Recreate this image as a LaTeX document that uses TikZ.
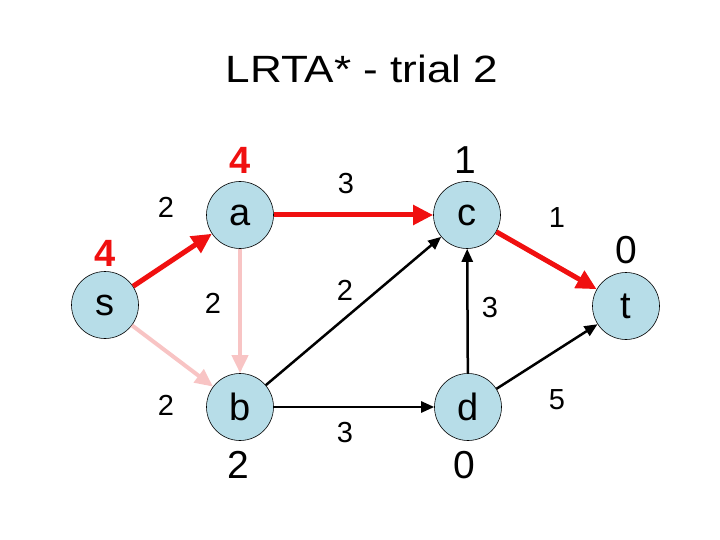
\documentclass[tikz,border=0pt]{standalone}
\usepackage{fontspec}
\setmainfont{Liberation Sans}
\usetikzlibrary{arrows.meta}
\definecolor{nodefill}{HTML}{B7DDE8}
\definecolor{redline}{HTML}{F01010}
\definecolor{pinkline}{HTML}{F8C4C4}
\tikzset{
  vert/.style={circle, draw=black, line width=0.6pt, fill=nodefill, minimum size=67pt, inner sep=0pt, font=\fontsize{38}{42}\selectfont},
  hval/.style={font=\fontsize{39}{43}\selectfont, inner sep=0pt},
  hred/.style={font=\fontsize{38}{42}\selectfont\bfseries, text=redline, inner sep=0pt},
  elab/.style={font=\fontsize{29}{33}\selectfont, inner sep=0pt},
  redarr/.style={draw=redline, line width=5pt, -{Triangle[length=20pt, width=19pt]}},
  pinkarr/.style={draw=pinkline, line width=4pt, -{Triangle[length=18pt, width=16pt]}},
  blackarr/.style={draw=black, line width=2.5pt, -{Triangle[length=13pt, width=11pt]}},
}
\begin{document}
\begin{tikzpicture}[x=1pt, y=-1pt]
\useasboundingbox (0,0) rectangle (720,540);
\node[font=\fontsize{38}{42}\selectfont, inner sep=0pt] (title) at (362,69) {\scalebox{1.16}[1]{LRTA* - trial 2}};

\node[vert] (s) at (105,305) {s};
\node[vert] (a) at (240,215) {a};
\node[vert] (c) at (467,215) {c};
\node[vert] (t) at (626,306) {t};
\node[vert] (b) at (240,407) {b};
\node[vert] (d) at (468,407) {d};

\draw[pinkarr] (a) -- (b);
\draw[pinkarr] (s) -- (b);
\draw[redarr] (s) -- (a);
\draw[redarr] (a) -- (c);
\draw[redarr] (c) -- (t);
\draw[blackarr] (b) -- (c);
\draw[blackarr] (b) -- (d);
\draw[blackarr] (d) -- (c);
\draw[blackarr] (d) -- (t);

\node[hred] (ha) at (240,160) {4};
\node[hred] (hs) at (105,253) {4};
\node[hval] (hc) at (465,160) {1};
\node[hval] (ht) at (626,250) {0};
\node[hval] (hb) at (238,465) {2};
\node[hval] (hd) at (464,465) {0};

\node[elab] (lsa) at (166,207) {2};
\node[elab] (lab) at (213,303) {2};
\node[elab] (lsb) at (166,405) {2};
\node[elab] (lac) at (346,184) {3};
\node[elab] (lct) at (557,218) {1};
\node[elab] (lbc) at (345,290) {2};
\node[elab] (ldc) at (490,308) {3};
\node[elab] (lbd) at (345,433) {3};
\node[elab] (ldt) at (557,400) {5};
\end{tikzpicture}
\end{document}
